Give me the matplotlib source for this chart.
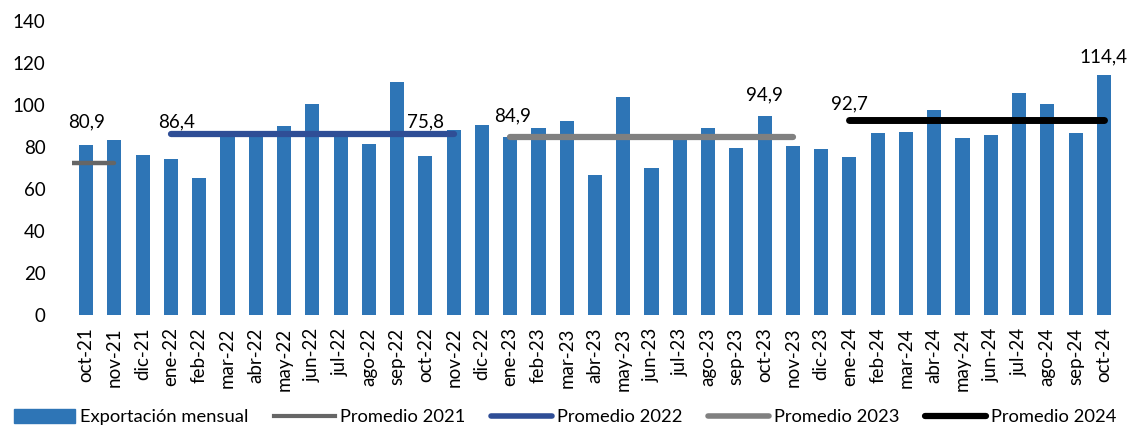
import numpy as np
import matplotlib
matplotlib.use("Agg")
from matplotlib import pyplot as plt
from matplotlib.lines import Line2D
from matplotlib.patches import Patch

plt.rcParams['font.family'] = ['Lato', 'DejaVu Sans']

meses = ['oct-21', 'nov-21', 'dic-21', 'ene-22', 'feb-22', 'mar-22', 'abr-22', 'may-22',
         'jun-22', 'jul-22', 'ago-22', 'sep-22', 'oct-22', 'nov-22', 'dic-22', 'ene-23',
         'feb-23', 'mar-23', 'abr-23', 'may-23', 'jun-23', 'jul-23', 'ago-23', 'sep-23',
         'oct-23', 'nov-23', 'dic-23', 'ene-24', 'feb-24', 'mar-24', 'abr-24', 'may-24',
         'jun-24', 'jul-24', 'ago-24', 'sep-24', 'oct-24']
exportacion = [80.9, 83.2, 76.2, 74.3, 65.1, 85.5, 85.5, 90.1, 100.3, 85.8, 81.3, 111.0,
               75.8, 88.1, 90.3, 84.9, 89.2, 92.4, 66.5, 103.7, 70.2, 84.0, 89.0, 79.4,
               94.9, 80.5, 79.2, 75.1, 86.5, 87.3, 97.8, 84.1, 85.7, 105.9, 100.5, 86.5,
               114.4]

# promedios anuales: (inicio, fin, valor)
prom_2021 = (-0.5, 1, 72.3)
prom_2022 = (3, 13, 86.4)
prom_2023 = (15, 25, 84.9)
prom_2024 = (27, 36, 92.7)

# etiquetas: (x, y, texto)
etiquetas = [(0, 92, '80,9'), (3.2, 92, '86,4'), (12, 92, '75,8'), (15.1, 94.8, '84,9'),
             (24, 104.8, '94,9'), (27, 100.5, '92,7'), (36, 122.9, '114,4')]

fs = 13.5

fig = plt.figure(figsize=(11.31, 4.28), dpi=100)
ax = fig.add_axes([72 / 1131, 1 - 315 / 428, (1118 - 72) / 1131, (315 - 21) / 428])

x = np.arange(len(meses))
ax.bar(x, exportacion, width=0.5, color='#2E75B6', zorder=2)

estilos = [(prom_2021, '#666666', 3.2), (prom_2022, '#2F4E96', 4.5),
           (prom_2023, '#808080', 4.5), (prom_2024, '#000000', 5.0)]
for (a, b, v), c, lw in estilos:
    ax.plot([a, b], [v, v], color=c, lw=lw, solid_capstyle='round', zorder=3)

for ex, ey, t in etiquetas:
    ax.text(ex, ey, t, ha='center', va='center', fontsize=fs, zorder=4)

ax.set_xlim(-0.5, len(meses) - 0.5)
ax.set_ylim(0, 140)
ax.set_yticks(range(0, 141, 20))
ax.set_xticks(x)
ax.set_xticklabels(meses, rotation=90, fontsize=fs)
ax.tick_params(axis='y', length=0, labelsize=fs, pad=19)
ax.tick_params(axis='x', length=0, pad=9)
for s in ax.spines.values():
    s.set_visible(False)

handles = [Patch(color='#2E75B6'),
           Line2D([], [], color='#666666', lw=3),
           Line2D([], [], color='#2F4E96', lw=4, solid_capstyle='round'),
           Line2D([], [], color='#808080', lw=4, solid_capstyle='round'),
           Line2D([], [], color='#000000', lw=4.5, solid_capstyle='round')]
labels = ['Exportación mensual', 'Promedio 2021', 'Promedio 2022', 'Promedio 2023', 'Promedio 2024']
fig.legend(handles, labels, loc='center', bbox_to_anchor=(0.5, 1 - 417 / 428), ncol=5,
           frameon=False, fontsize=13.2, handlelength=3.3, handleheight=0.8,
           handletextpad=0.3, columnspacing=1.4, borderpad=0)

fig.savefig('out.png', dpi=100)
